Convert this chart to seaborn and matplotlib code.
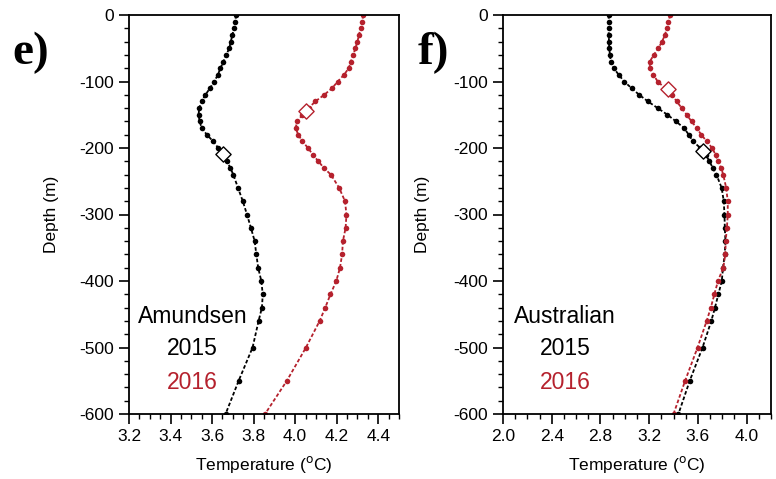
import numpy as np
import pandas as pd
import matplotlib.pyplot as plt
import seaborn as sns

# depth levels (m) shared by all profiles
depth = [0, 10, 20, 30, 40, 50, 60, 70, 80, 90, 100, 110, 120, 130, 140, 150,
         160, 170, 180, 190, 200, 210, 220, 230, 240, 260, 280, 300, 320, 340,
         360, 380, 400, 420, 440, 460, 500, 550, 600]

# Amundsen temperature profiles (degC)
amu_2015 = [3.715, 3.712, 3.705, 3.698, 3.690, 3.683, 3.668, 3.655, 3.640, 3.628,
            3.610, 3.590, 3.568, 3.550, 3.538, 3.535, 3.540, 3.550, 3.575, 3.605,
            3.630, 3.655, 3.672, 3.688, 3.702, 3.725, 3.748, 3.768, 3.787, 3.805,
            3.813, 3.822, 3.837, 3.844, 3.840, 3.824, 3.795, 3.728, 3.665]
amu_2016 = [4.328, 4.322, 4.315, 4.307, 4.300, 4.290, 4.280, 4.268, 4.258, 4.235,
            4.205, 4.178, 4.140, 4.097, 4.065, 4.035, 4.010, 4.002, 4.015, 4.035,
            4.062, 4.085, 4.112, 4.138, 4.172, 4.212, 4.240, 4.247, 4.243, 4.230,
            4.226, 4.216, 4.198, 4.170, 4.145, 4.118, 4.052, 3.960, 3.855]

# Australian temperature profiles (degC)
aus_2015 = [2.868, 2.867, 2.867, 2.868, 2.870, 2.872, 2.878, 2.885, 2.910, 2.950,
            2.995, 3.055, 3.118, 3.190, 3.270, 3.350, 3.420, 3.486, 3.525, 3.560,
            3.620, 3.665, 3.695, 3.722, 3.752, 3.795, 3.812, 3.818, 3.821, 3.826,
            3.820, 3.806, 3.796, 3.768, 3.740, 3.710, 3.638, 3.533, 3.440]
aus_2016 = [3.372, 3.358, 3.343, 3.330, 3.305, 3.275, 3.238, 3.205, 3.205, 3.235,
            3.270, 3.330, 3.390, 3.425, 3.468, 3.508, 3.548, 3.590, 3.628, 3.672,
            3.717, 3.745, 3.765, 3.790, 3.808, 3.832, 3.845, 3.845, 3.838, 3.828,
            3.825, 3.808, 3.765, 3.735, 3.706, 3.672, 3.597, 3.495, 3.400]

# mixed layer depth markers (temperature, depth)
amu_mld_2015 = (3.654, 209)
amu_mld_2016 = (4.050, 145)
aus_mld_2015 = (3.643, 205)
aus_mld_2016 = (3.358, 112)

red = '#b5212d'

sns.set_style('ticks', {'axes.edgecolor': 'black', 'text.color': 'black',
                        'xtick.color': 'black', 'ytick.color': 'black',
                        'axes.labelcolor': 'black'})
plt.rcParams['font.family'] = ['Liberation Sans', 'DejaVu Sans']
plt.rcParams['axes.unicode_minus'] = False

fig = plt.figure(figsize=(7.76, 4.79), dpi=100)
ax1 = fig.add_axes([129 / 776, 65 / 479, 270 / 776, 399 / 479])
ax2 = fig.add_axes([503 / 776, 65 / 479, 268 / 776, 399 / 479])

neg_depth = [-d for d in depth]


def draw_panel(ax, t15, t16, mld15, mld16, region, xlim, xmajor, xminor, txt_x):
    for t, c in [(t15, 'black'), (t16, red)]:
        sns.lineplot(x=t, y=neg_depth, ax=ax, sort=False, estimator=None,
                     color=c, linewidth=1.3, linestyle=(0, (2, 1.2)),
                     marker='o', markersize=4, markeredgewidth=0)
    for (t, d), c in [(mld15, 'black'), (mld16, red)]:
        ax.scatter([t], [-d], marker='D', s=60, facecolor='white',
                   edgecolor=c, linewidth=1.0, zorder=5)
    ax.set_xlim(*xlim)
    ax.set_ylim(-600, 0)
    ax.set_xticks(np.arange(xlim[0], xlim[1] + 1e-6, xmajor))
    ax.set_xticks(np.arange(xlim[0], xlim[1] + 1e-6, xminor), minor=True)
    ax.xaxis.set_major_formatter(plt.FormatStrFormatter('%.1f'))
    ax.set_yticks(np.arange(-600, 1, 100))
    ax.set_yticks(np.arange(-600, 1, 20), minor=True)
    ax.tick_params(which='major', length=7, width=1.2, labelsize=12.5, pad=4,
                   colors='black')
    ax.tick_params(which='minor', length=3.5, width=1.0, colors='black')
    for s in ax.spines.values():
        s.set_linewidth(1.3)
        s.set_color('black')
        s.set_visible(True)
    ax.set_xlabel('Temperature ($^{\\mathrm{o}}$C)', fontsize=12.5, labelpad=7)
    ax.set_ylabel('Depth (m)', fontsize=12.5)
    ax.text(txt_x, -453, region, ha='center', va='center', fontsize=16.5, color='black')
    ax.text(txt_x, -501, '2015', ha='center', va='center', fontsize=16.5, color='black')
    ax.text(txt_x, -552, '2016', ha='center', va='center', fontsize=16.5, color=red)
    return ax


draw_panel(ax1, amu_2015, amu_2016, amu_mld_2015, amu_mld_2016, 'Amundsen',
           (3.2, 4.5), 0.2, 0.05, 3.505)
draw_panel(ax2, aus_2015, aus_2016, aus_mld_2015, aus_mld_2016, 'Australian',
           (2.0, 4.2), 0.4, 0.1, 2.51)

ax1.yaxis.set_label_coords(-0.26, 0.5)
ax2.yaxis.set_label_coords(-0.272, 0.5)

fig.text(12 / 776, 1 - 64 / 479, 'e)', fontsize=34, fontweight='bold',
         family='Liberation Serif', va='baseline', color='black')
fig.text(418 / 776, 1 - 64 / 479, 'f)', fontsize=34, fontweight='bold',
         family='Liberation Serif', va='baseline', color='black')

fig.savefig('out.png', dpi=100)
